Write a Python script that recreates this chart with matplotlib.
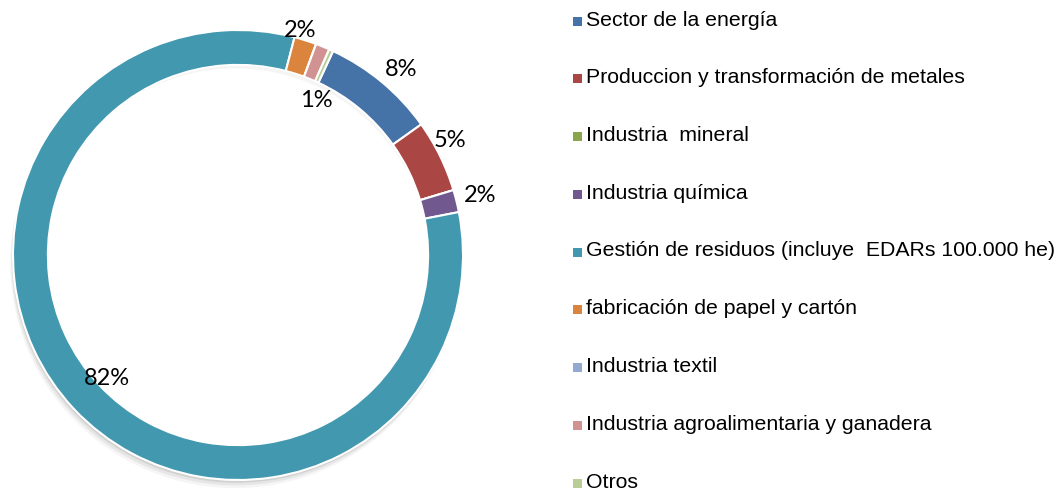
import matplotlib
matplotlib.use("Agg")
import matplotlib.pyplot as plt
from matplotlib.patches import Rectangle
import numpy as np

categories = [
    "Sector de la energía",
    "Produccion y transformación de metales",
    "Industria  mineral",
    "Industria química",
    "Gestión de residuos (incluye  EDARs 100.000 he)",
    "fabricación de papel y cartón",
    "Industria textil",
    "Industria agroalimentaria y ganadera",
    "Otros",
]
values = [8.2, 5.2, 0.0, 1.6, 82.1, 1.6, 0.0, 1.0, 0.3]
pct_labels = ["8%", "5%", "", "2%", "82%", "2%", "", "1%", ""]
colors = ["#4572A7", "#AA4643", "#89A54E", "#71588F", "#4198AF",
          "#DB843D", "#93A9CF", "#D19392", "#B9CD96"]

W, H = 1061, 491
fig = plt.figure(figsize=(W / 100, H / 100), dpi=100)

cx, cy, R = 238, 255, 225
ax = fig.add_axes([(cx - R) / W, (H - cy - R) / H, 2 * R / W, 2 * R / H])
ax.set_xlim(-1, 1)
ax.set_ylim(-1, 1)
ax.set_aspect("equal")
ax.axis("off")

width = 0.155
# soft shadow
for k, a in enumerate([0.09, 0.06, 0.04]):
    ax.pie([1], radius=1.0, colors=["#000000"],
           wedgeprops=dict(width=width - 0.02, alpha=a, linewidth=0),
           center=(-0.004 * (k + 1), -0.012 * (k + 1)))
wedges, _ = ax.pie(values, radius=1.0, colors=colors, startangle=65,
                   counterclock=False,
                   wedgeprops=dict(width=width, edgecolor="white", linewidth=1.5))
ax.set_xlim(-1, 1)
ax.set_ylim(-1, 1)

label_r = [1.10, 1.07, 1.0, 1.11, 0.80, 1.035, 1.0, 0.77, 1.0]
label_dang = [-1.6, 2.4, 0, 0, 0, 2.0, 0, -4.9, 0]
for w, lab, r, da in zip(wedges, pct_labels, label_r, label_dang):
    if not lab:
        continue
    ang = np.deg2rad((w.theta1 + w.theta2) / 2 + da)
    ax.text(r * np.cos(ang), r * np.sin(ang), lab, ha="center", va="center",
            fontsize=17, family="Lato", color="#000000")

# legend
y0, dy = 20, 57.75
for i, (cat, col) in enumerate(zip(categories, colors)):
    yc = y0 + i * dy
    sq = 9
    fig.patches.append(Rectangle((573 / W, (H - yc - sq / 2 - 1) / H), sq / W, sq / H,
                                 transform=fig.transFigure, facecolor=col,
                                 edgecolor="none"))
    fig.text(586 / W, (H - yc) / H, cat, ha="left", va="center",
             fontsize=15.3, family="Liberation Sans", color="#000000")

fig.savefig("out.png", dpi=100)
